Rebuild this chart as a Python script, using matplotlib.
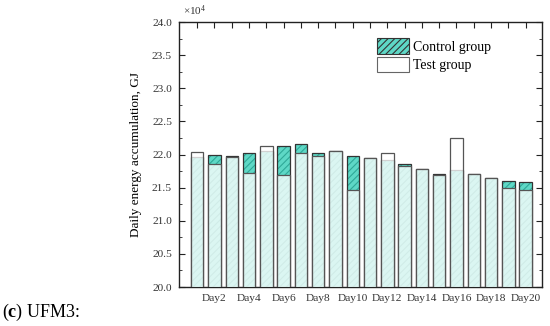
import matplotlib
matplotlib.use("Agg")
import matplotlib.pyplot as plt
from matplotlib.patches import Patch
from matplotlib.ticker import MultipleLocator, FormatStrFormatter

days = list(range(1, 21))
control = [21.96, 21.99, 21.98, 22.02, 22.05, 22.13, 22.16, 22.03, 22.05, 21.97,
           21.94, 21.92, 21.85, 21.78, 21.70, 21.77, 21.70, 21.64, 21.60, 21.59]
test = [22.04, 21.85, 21.96, 21.72, 22.13, 21.69, 22.02, 21.97, 22.06, 21.47,
        21.94, 22.02, 21.83, 21.78, 21.69, 22.25, 21.70, 21.64, 21.50, 21.47]
tick_labels = ["Day%d" % d for d in days]

plt.rcParams['font.family'] = ['Liberation Serif', 'DejaVu Serif']
plt.rcParams['mathtext.fontset'] = 'custom'
plt.rcParams['mathtext.rm'] = 'Liberation Serif'
plt.rcParams['mathtext.bf'] = 'Liberation Serif:bold'
plt.rcParams['mathtext.it'] = 'Liberation Serif:italic'
plt.rcParams['hatch.linewidth'] = 0.8

fig = plt.figure(figsize=(5.5, 3.26), dpi=100)
ax = fig.add_axes([0.3255, 0.1196, 0.66, 0.8129])

teal = '#5ed8c6'
hatch_col = '#2fa898'
w = 0.72
ax.bar(days, control, width=w, bottom=0, color=teal, edgecolor=hatch_col,
       hatch='/////', linewidth=0, zorder=2)
ax.bar(days, control, width=w, bottom=0, facecolor='none', edgecolor='#333333',
       linewidth=0.9, zorder=3)
ax.bar(days, test, width=w, bottom=0, facecolor=(1, 1, 1, 0.78),
       edgecolor='#555555', linewidth=0.9, zorder=4)

ax.set_xlim(-0.05, 20.95)
ax.set_ylim(20.0, 24.0)
ax.set_xticks(days)
ax.set_xticklabels([t if d % 2 == 0 else '' for d, t in zip(days, tick_labels)])
ax.yaxis.set_major_locator(MultipleLocator(0.5))
ax.yaxis.set_minor_locator(MultipleLocator(0.25))
ax.yaxis.set_major_formatter(FormatStrFormatter('%.1f'))
ax.tick_params(axis='both', which='both', direction='in', top=True, right=True,
               labelsize=8.2, colors='#222222', labelcolor='#333333')
ax.tick_params(axis='both', which='major', length=4)
ax.tick_params(axis='both', which='minor', length=2)
ax.tick_params(axis='y', pad=5)
ax.tick_params(axis='x', pad=5)
for s in ax.spines.values():
    s.set_linewidth(1.0)
    s.set_color('#222222')

ax.set_ylabel('Daily energy accumulation, GJ', fontsize=9.5, labelpad=7)
ax.text(0.01, 1.015, r'$\times$10$^4$', transform=ax.transAxes, fontsize=8,
        ha='left', va='bottom', color='#333333')

handles = [Patch(facecolor=teal, edgecolor='#333333', hatch='/////', linewidth=0.8),
           Patch(facecolor='white', edgecolor='#666666', linewidth=0.8)]
ax.legend(handles, ['Control group', 'Test group'], loc='upper left',
          bbox_to_anchor=(0.51, 0.985), frameon=False, fontsize=10,
          handlelength=2.3, handleheight=1.35, handletextpad=0.3, labelspacing=0.2)

fig.text(0.004, 0.008, r'($\mathbf{c}$) UFM3:', fontsize=13, ha='left', va='bottom')

fig.savefig('out.png', dpi=100)
